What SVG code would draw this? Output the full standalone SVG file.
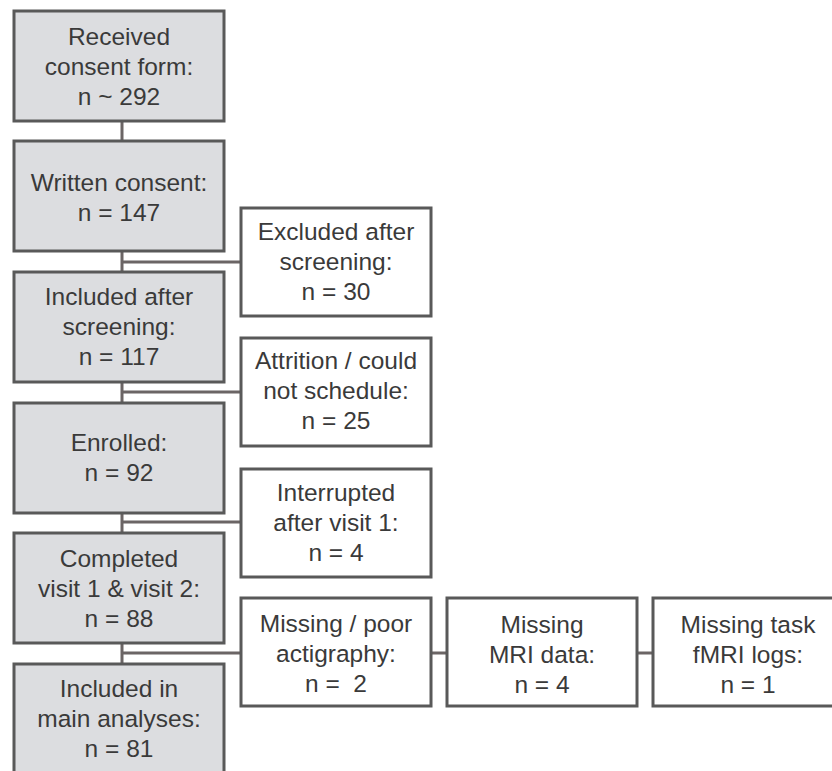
<svg xmlns="http://www.w3.org/2000/svg" width="832" height="771" viewBox="0 0 832 771">
<style>
.main rect{fill:#dcdde0;stroke:#595959;stroke-width:3}
.side rect{fill:#ffffff;stroke:#595959;stroke-width:3}
text{font-family:"Liberation Sans",Arial,sans-serif;font-size:24.5px;fill:#3a3a3a;text-anchor:middle}
#connectors line{stroke:#6b6565;stroke-width:3}
</style>
<rect width="832" height="771" fill="#ffffff"/>
<g id="connectors">
<line x1="122" y1="121" x2="122" y2="141"/>
<line x1="122" y1="251" x2="122" y2="272"/>
<line x1="122" y1="382" x2="122" y2="403"/>
<line x1="122" y1="513" x2="122" y2="533"/>
<line x1="122" y1="643" x2="122" y2="664"/>
<line x1="122" y1="262" x2="241" y2="262"/>
<line x1="122" y1="392" x2="241" y2="392"/>
<line x1="122" y1="522" x2="241" y2="522"/>
<line x1="122" y1="653" x2="241" y2="653"/>
<line x1="431" y1="653" x2="447" y2="653"/>
<line x1="637" y1="653" x2="653" y2="653"/>
</g>
<g id="n1" class="main"><rect x="14" y="11" width="210" height="110"/>
<text x="119" y="45">Received</text><text x="119" y="75">consent form:</text><text x="119" y="105">n ~ 292</text></g>
<g id="n2" class="main"><rect x="14" y="141" width="210" height="110"/>
<text x="119" y="191">Written consent:</text><text x="119" y="221">n = 147</text></g>
<g id="n3" class="main"><rect x="14" y="272" width="210" height="110"/>
<text x="119" y="305">Included after</text><text x="119" y="335">screening:</text><text x="119" y="365">n = 117</text></g>
<g id="n4" class="main"><rect x="14" y="403" width="210" height="110"/>
<text x="119" y="451">Enrolled:</text><text x="119" y="481">n = 92</text></g>
<g id="n5" class="main"><rect x="14" y="533" width="210" height="110"/>
<text x="119" y="567">Completed</text><text x="119" y="597">visit 1 &amp; visit 2:</text><text x="119" y="627">n = 88</text></g>
<g id="n6" class="main"><rect x="14" y="664" width="210" height="120"/>
<text x="119" y="697">Included in</text><text x="119" y="727">main analyses:</text><text x="119" y="757">n = 81</text></g>
<g id="s1" class="side"><rect x="241" y="208" width="190" height="108"/>
<text x="336" y="240">Excluded after</text><text x="336" y="270">screening:</text><text x="336" y="300">n = 30</text></g>
<g id="s2" class="side"><rect x="241" y="338" width="190" height="108"/>
<text x="336" y="369">Attrition / could</text><text x="336" y="399">not schedule:</text><text x="336" y="429">n = 25</text></g>
<g id="s3" class="side"><rect x="241" y="469" width="190" height="108"/>
<text x="336" y="501">Interrupted</text><text x="336" y="531">after visit 1:</text><text x="336" y="561">n = 4</text></g>
<g id="s4" class="side"><rect x="241" y="598" width="190" height="108"/>
<text x="336" y="632">Missing / poor</text><text x="336" y="662">actigraphy:</text><text x="336" y="692" xml:space="preserve">n =  2</text></g>
<g id="s5" class="side"><rect x="447" y="598" width="190" height="108"/>
<text x="542" y="633">Missing</text><text x="542" y="663">MRI data:</text><text x="542" y="693">n = 4</text></g>
<g id="s6" class="side"><rect x="653" y="598" width="190" height="108"/>
<text x="748" y="633">Missing task</text><text x="748" y="663">fMRI logs:</text><text x="748" y="693">n = 1</text></g>
</svg>
